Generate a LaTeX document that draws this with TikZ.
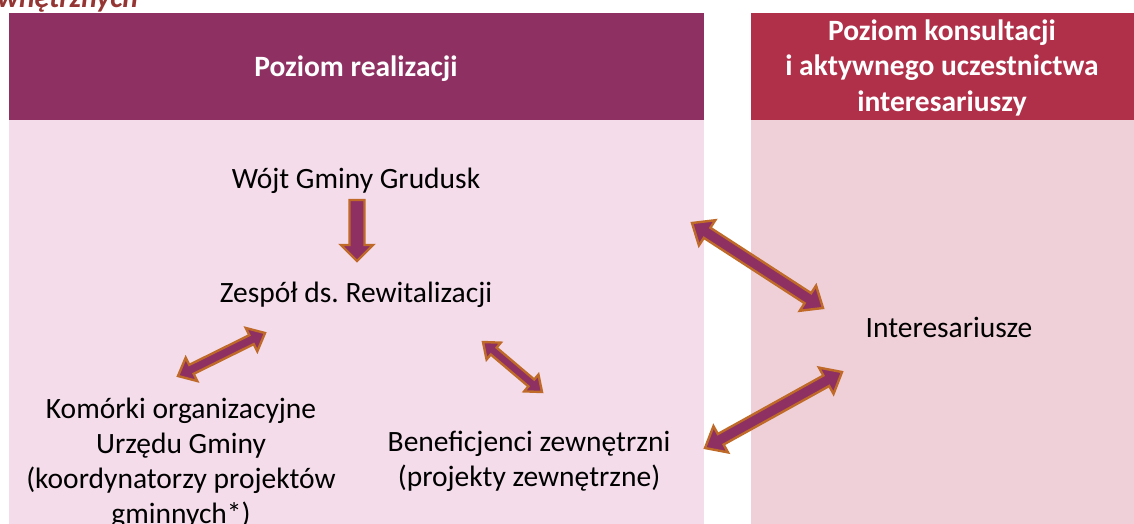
\documentclass[tikz,border=0pt]{standalone}
\usepackage{fontspec}
\setmainfont{Carlito}
\frenchspacing
\usetikzlibrary{calc}
\definecolor{hdrL}{HTML}{8E3062}
\definecolor{hdrR}{HTML}{B0304A}
\definecolor{bodyL}{HTML}{F4DCEA}
\definecolor{bodyR}{HTML}{F0D0D8}
\definecolor{arrFill}{HTML}{8E3062}
\definecolor{arrLine}{HTML}{BF6A28}
\definecolor{ttl}{HTML}{943634}
\tikzset{
  fatarr/.style={fill=arrFill, draw=arrLine, line width=2.4pt, line join=miter},
  bodytxt/.style={font=\fontsize{29.5}{35}\selectfont, text=black, inner sep=0pt, align=center, anchor=base},
  hdrtxt/.style={font=\fontsize{29.5}{35.5}\selectfont\bfseries, text=white, inner sep=0pt, align=center, anchor=base},
}
% double arrow: start, end, head length, head half width, shaft half width
\newcommand\fatDouble[5]{%
  \draw[fatarr] (#1)
    -- ($(#1)!#3!(#2)!#4!90:(#2)$)
    -- ($(#1)!#3!(#2)!#5!90:(#2)$)
    -- ($(#2)!#3!(#1)!#5!-90:(#1)$)
    -- ($(#2)!#3!(#1)!#4!-90:(#1)$)
    -- (#2)
    -- ($(#2)!#3!(#1)!#4!90:(#1)$)
    -- ($(#2)!#3!(#1)!#5!90:(#1)$)
    -- ($(#1)!#3!(#2)!#5!-90:(#2)$)
    -- ($(#1)!#3!(#2)!#4!-90:(#2)$)
    -- cycle;}
% single arrow: tail, tip, head length, head half width, shaft half width
\newcommand\fatSingle[5]{%
  \draw[fatarr] ($(#1)!#5!90:(#2)$)
    -- ($(#2)!#3!(#1)!#5!-90:(#1)$)
    -- ($(#2)!#3!(#1)!#4!-90:(#1)$)
    -- (#2)
    -- ($(#2)!#3!(#1)!#4!90:(#1)$)
    -- ($(#2)!#3!(#1)!#5!90:(#1)$)
    -- ($(#1)!#5!-90:(#2)$)
    -- cycle;}
\begin{document}
\begin{tikzpicture}[x=1pt,y=-1pt]
\clip (0,0) rectangle (1134,523);
% panels
\fill[hdrL] (9,13) rectangle (704,120);
\fill[bodyL] (9,120) rectangle (704,530);
\fill[hdrR] (751,13) rectangle (1134,120);
\fill[bodyR] (751,120) rectangle (1134,530);
% cut-off title
\node[font=\fontsize{29.5}{34}\selectfont\bfseries\itshape, text=ttl, inner sep=0pt, anchor=base west] (title) at (-3,7) {wnętrznych};
% headers (anchor base = baseline of last line)
\node[hdrtxt] (hL) at (356,76) {Poziom realizacji};
\node[hdrtxt] (hR) at (942,111) {Poziom konsultacji\\i aktywnego uczestnictwa\\interesariuszy};
% body texts
\node[bodytxt] (wojt) at (356,188) {Wójt Gminy Grudusk};
\node[bodytxt] (zesp) at (356,302) {Zespół ds. Rewitalizacji};
\node[bodytxt] (inter) at (949,337) {Interesariusze};
\node[bodytxt] (kom) at (181,523) {Komórki organizacyjne\\Urzędu Gminy\\(koordynatorzy projektów\\gminnych*)};
\node[bodytxt] (ben) at (529,486) {Beneficjenci zewnętrzni\\(projekty zewnętrzne)};
% arrow end points
\coordinate (d1) at (357,200); \coordinate (d2) at (357,261);
\coordinate (l1) at (178,376); \coordinate (l2) at (265,333);
\coordinate (r1) at (483,342); \coordinate (r2) at (542,392);
\coordinate (t1) at (692,223); \coordinate (t2) at (823,308);
\coordinate (b1) at (705,448); \coordinate (b2) at (842,372);
\fatSingle{d1}{d2}{16pt}{16pt}{7.5pt}
\fatDouble{l1}{l2}{15pt}{13pt}{5pt}
\fatDouble{r1}{r2}{14pt}{11pt}{4.5pt}
\fatDouble{t1}{t2}{18pt}{15pt}{6pt}
\fatDouble{b1}{b2}{18pt}{15pt}{6pt}
\end{tikzpicture}
\end{document}
